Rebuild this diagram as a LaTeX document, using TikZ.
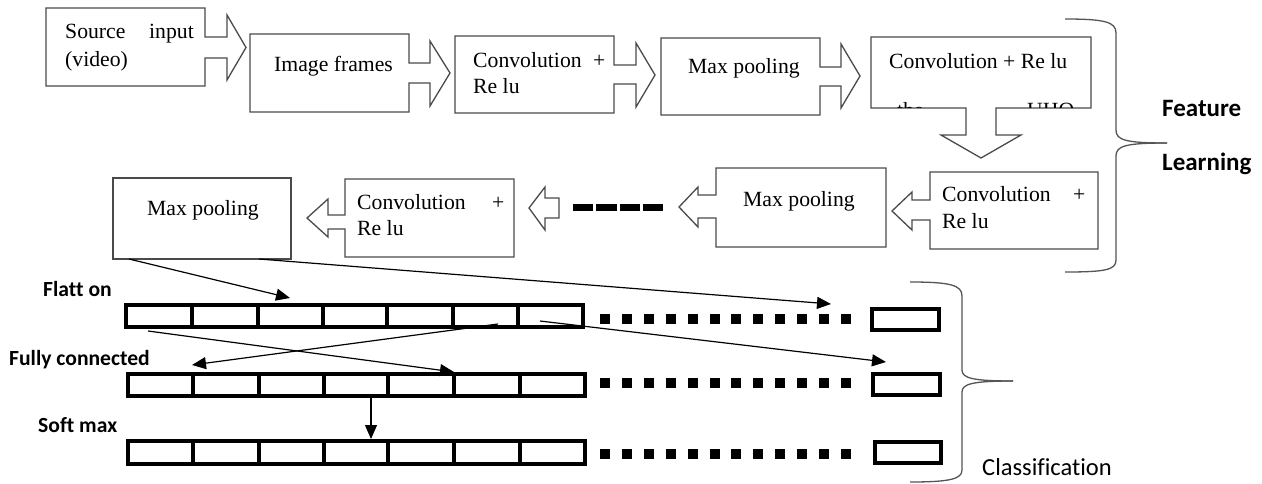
\documentclass[tikz,border=0pt]{standalone}
\usepackage{fontspec}
\setmainfont{Liberation Serif}
\newfontfamily\calib[Ligatures=NoCommon]{Carlito}
\usetikzlibrary{arrows.meta}
\definecolor{boxgray}{HTML}{4A4A4A}
\definecolor{bracegray}{HTML}{555555}
\begin{document}
\begin{tikzpicture}[x=1pt,y=-1pt,
  blockline/.style={draw=boxgray,line width=1.3pt,line join=miter},
  serif/.style={font=\fontsize{21.7}{28}\selectfont,inner sep=0pt,anchor=base west},
  serifE/.style={font=\fontsize{21.7}{28}\selectfont,inner sep=0pt,anchor=base east},
  sanslab/.style={font=\calib\bfseries\fontsize{21.6}{26}\selectfont,inner sep=0pt,anchor=base west},
  biglab/.style={font=\calib\bfseries\fontsize{25}{30}\selectfont,inner sep=0pt,anchor=base west},
  barline/.style={draw=black,line width=4pt},
  endbox/.style={draw=black,line width=3.5pt},
  conn/.style={draw=black,line width=1.2pt,-{Triangle[length=14pt,width=12pt]}},
  bracestyle/.style={draw=bracegray,line width=1.3pt},
  dot/.style={fill=black,minimum size=10pt,inner sep=0pt,draw=none}
]
\useasboundingbox (0,0) rectangle (1262,483);
\fill[white] (0,0) rectangle (1262,483);

% ---- Row 1 blocks ----
\draw[blockline] (46,8) -- (205,8) -- (205,37) -- (227,37) -- (227,15) -- (246,47.5) -- (227,80) -- (227,58) -- (205,58) -- (205,86) -- (46,86) -- cycle;
\node[serif] (src1) at (65,38) {Source};
\node[serifE] (src2) at (194,38) {input};
\node[serif] (src3) at (65,66) {(video)};

\draw[blockline] (250,34) -- (409,34) -- (409,63) -- (430,63) -- (430,41) -- (450,73) -- (430,106) -- (430,83) -- (409,83) -- (409,112) -- (250,112) -- cycle;
\node[serif] (img) at (274,71) {Image frames};

\draw[blockline] (455,36) -- (614,36) -- (614,65) -- (636,65) -- (636,43) -- (655,75) -- (636,107) -- (636,84) -- (614,84) -- (614,113) -- (455,113) -- cycle;
\node[serif] (c1a) at (473,67) {Convolution};
\node[serif] (c1b) at (593,67) {+};
\node[serif] (c1c) at (473,93) {Re lu};

\draw[blockline] (661,38) -- (820,38) -- (820,67) -- (841,67) -- (841,44) -- (860,76) -- (841,108) -- (841,86) -- (820,86) -- (820,115) -- (661,115) -- cycle;
\node[serif] (mp1) at (688,73) {Max pooling};

\draw[blockline] (871,37) -- (1091,37) -- (1091,108) -- (996,108) -- (996,135) -- (1021,135) -- (981,158) -- (941,135) -- (966,135) -- (966,108) -- (871,108) -- cycle;
\node[serif] (c2) at (889,68) {Convolution + Re lu};
\begin{scope}
  \clip (872,38) rectangle (1090,107.3);
  \node[serif] (g1) at (897,117) {the};
  \node[serif] (g2) at (1027,117) {UHO};
\end{scope}

% ---- Row 2 blocks ----
\draw[blockline] (930,172) -- (1098,172) -- (1098,249) -- (930,249) -- (930,220) -- (912,220) -- (912,230) -- (892,211) -- (912,192) -- (912,200) -- (930,200) -- cycle;
\node[serif] (c3a) at (942,201) {Convolution};
\node[serif] (c3b) at (1073,201) {+};
\node[serif] (c3c) at (942,228) {Re lu};

\draw[blockline] (716,168) -- (886,168) -- (886,247) -- (716,247) -- (716,218) -- (698,218) -- (698,227) -- (679,207) -- (698,187) -- (698,195) -- (716,195) -- cycle;
\node[serif] (mp2) at (743,206) {Max pooling};

\draw[draw=black,line width=7pt,dash pattern=on 20.25pt off 3pt] (573,207) -- (663,207);

\draw[blockline] (559,198) -- (559,218) -- (545,218) -- (545,230) -- (529,208) -- (545,187) -- (545,198) -- cycle;

\draw[blockline] (345,179) -- (514,179) -- (514,257) -- (345,257) -- (345,229) -- (328,229) -- (328,237) -- (307,218) -- (328,199) -- (328,215) -- (345,215) -- cycle;
\node[serif] (c4a) at (357,209) {Convolution};
\node[serif] (c4b) at (492,209) {+};
\node[serif] (c4c) at (357,235) {Re lu};

\draw[blockline] (113,178) rectangle (291,259);
\node[serif] (mp3) at (147,215) {Max pooling};

% ---- Braces ----
\draw[bracestyle] (1065,19) .. controls (1105,19) and (1116,22) .. (1116,33) -- (1116,130) .. controls (1116,140) and (1125,143) .. (1167,143);
\draw[bracestyle] (1167,143) .. controls (1125,143) and (1116,146) .. (1116,156) -- (1116,260) .. controls (1116,270) and (1105,272) .. (1065,272);
\node[biglab] (feat) at (1162,116) {Feature};
\node[biglab] (learn) at (1162,170) {Learning};

\draw[bracestyle] (910,282) .. controls (950,282) and (962,285) .. (962,296) -- (962,370) .. controls (962,378) and (972,381) .. (1013,381);
\draw[bracestyle] (1013,381) .. controls (972,381) and (962,384) .. (962,392) -- (962,470) .. controls (962,479) and (950,482) .. (910,482);
\node[font=\calib\fontsize{24.5}{30}\selectfont,inner sep=0pt,anchor=base west] (cls) at (982,475) {Classification};

% ---- Labels ----
\node[sanslab] (flat) at (43,296) {Flatt on};
\node[sanslab] (fc) at (9,365) {Fully connected};
\node[sanslab] (sm) at (38,432) {Soft max};

% ---- Bars ----
\draw[barline] (126,305) rectangle (583,327);
\foreach \x in {192,258,323,387,453,518} \draw[barline] (\x,305) -- (\x,327);
\draw[barline] (128,374) rectangle (585,396);
\foreach \x in {193,259,324,388,454,520} \draw[barline] (\x,374) -- (\x,396);
\draw[barline] (128,441) rectangle (585,464);
\foreach \x in {193,259,324,388,454,520} \draw[barline] (\x,441) -- (\x,464);

\foreach \k in {0,...,11} {
  \node[dot] at ({605+21.9*\k},319) {};
  \node[dot] at ({605+21.9*\k},383) {};
  \node[dot] at ({605+21.9*\k},454) {};
}
\draw[endbox] (872,309) rectangle (939,330);
\draw[endbox] (873,374) rectangle (940,395);
\draw[endbox] (875,442) rectangle (941,463);

% ---- Connectors ----
\coordinate (mpA) at (129,259);
\coordinate (mpB) at (259,259);
\coordinate (flTip) at (290,298);
\coordinate (dotTip) at (831,304);
\coordinate (f1) at (148,331);
\coordinate (fcTip) at (454,372);
\coordinate (f6) at (498,324);
\coordinate (fcTip2) at (192,365);
\coordinate (f7) at (540,321);
\coordinate (endTip) at (886,362);
\coordinate (fcB) at (371,398);
\coordinate (smT) at (371,439);
\draw[conn] (mpA) -- (flTip);
\draw[conn] (mpB) -- (dotTip);
\draw[conn] (f1) -- (fcTip);
\draw[conn] (f6) -- (fcTip2);
\draw[conn] (f7) -- (endTip);
\draw[conn] (fcB) -- (smT);
\end{tikzpicture}
\end{document}
